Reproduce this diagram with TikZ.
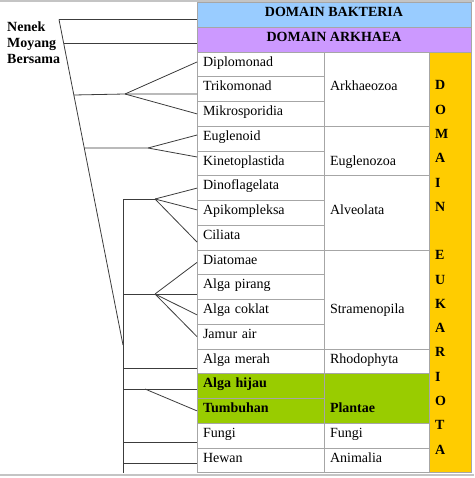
\documentclass[tikz,border=0pt]{standalone}
\usepackage{fontspec}
\setmainfont{Liberation Serif}
\usetikzlibrary{positioning,calc}
\definecolor{bakblue}{HTML}{99CCFF}
\definecolor{arkpurple}{HTML}{CC99FF}
\definecolor{eukgold}{HTML}{FFCC00}
\definecolor{plantgreen}{HTML}{99CC00}
\definecolor{gridgray}{HTML}{A6A6A6}
\definecolor{treeline}{HTML}{3C3C3C}
\definecolor{framegray}{HTML}{C4C4C4}
\tikzset{
  cellbox/.style={rectangle,draw=gridgray,line width=0.8pt,outer sep=0pt,
    minimum height=24.75pt,text width=115pt,inner xsep=6pt,inner ysep=0pt,
    align=left,text height=9.5pt,text depth=6.2pt,font=\fontsize{14}{16}\selectfont},
  plantcell/.style={cellbox,fill=plantgreen,font=\fontsize{14}{16}\selectfont\bfseries},
  grptext/.style={rectangle,outer sep=0pt,minimum height=24.75pt,text width=93pt,
    inner xsep=6pt,inner ysep=0pt,align=left,text height=9.5pt,text depth=6.2pt,
    font=\fontsize{14}{16}\selectfont},
  hdrbox/.style={rectangle,draw=gridgray,line width=0.8pt,outer sep=0pt,
    minimum width=274pt,minimum height=24.75pt,inner sep=0pt,
    text height=9.5pt,text depth=6.2pt,font=\fontsize{14}{16}\selectfont\bfseries},
  eukbox/.style={rectangle,draw=gridgray,line width=0.8pt,fill=eukgold,outer sep=0pt,
    minimum width=42pt,minimum height=420.75pt,inner sep=0pt},
  eukletter/.style={inner sep=0pt,font=\fontsize{14}{16}\selectfont\bfseries},
  rootlabel/.style={inner sep=0pt,align=left,font=\fontsize{14}{16}\selectfont\bfseries},
  gridline/.style={draw=gridgray,line width=0.8pt},
  tree/.style={draw=treeline,line width=0.8pt},
}
\begin{document}
\begin{tikzpicture}[x=1pt,y=-1pt]
  \useasboundingbox (0,0) rectangle (474,478);
  % page rules
  \draw[framegray,line width=1.5pt] (0,1) -- (474,1);
  \draw[framegray,line width=1.5pt] (0,475) -- (474,475);

  % domains
  \node[hdrbox,fill=bakblue,anchor=north west] (bak) at (197,2.5) {DOMAIN BAKTERIA};
  \node[hdrbox,fill=arkpurple,below=0pt of bak] (ark) {DOMAIN ARKHAEA};
  \node[eukbox,anchor=north west] (euk) at (429,52) {};

  % species column
  \node[cellbox,anchor=north west] (dip) at (197,52) {Diplomonad};
  \node[cellbox,below=0pt of dip] (trik) {Trikomonad};
  \node[cellbox,below=0pt of trik] (mik) {Mikrosporidia};
  \node[cellbox,below=0pt of mik] (eug) {Euglenoid};
  \node[cellbox,below=0pt of eug] (kin) {Kinetoplastida};
  \node[cellbox,below=0pt of kin] (dino) {Dinoflagelata};
  \node[cellbox,below=0pt of dino] (api) {Apikompleksa};
  \node[cellbox,below=0pt of api] (cil) {Ciliata};
  \node[cellbox,below=0pt of cil] (dia) {Diatomae};
  \node[cellbox,below=0pt of dia] (pir) {Alga pirang};
  \node[cellbox,below=0pt of pir] (cok) {Alga coklat};
  \node[cellbox,below=0pt of cok] (jam) {Jamur air};
  \node[cellbox,below=0pt of jam] (merah) {Alga merah};
  \node[plantcell,below=0pt of merah] (hijau) {Alga hijau};
  \node[plantcell,below=0pt of hijau] (tumb) {Tumbuhan};
  \node[cellbox,below=0pt of tumb] (fungi) {Fungi};
  \node[cellbox,below=0pt of fungi] (hewan) {Hewan};

  % group column
  \foreach \a/\b in {dip/mik,eug/kin,dino/cil,dia/jam,merah/merah,fungi/fungi,hewan/hewan}
    \draw[gridline] (\a.north east) rectangle (\b.south east -| euk.west);
  \draw[gridline,fill=plantgreen] (hijau.north east) rectangle (tumb.south east -| euk.west);
  \node[grptext,right=0pt of trik] (arkz) {Arkhaeozoa};
  \node[grptext,right=0pt of kin] (euglz) {Euglenozoa};
  \node[grptext,right=0pt of api] (alv) {Alveolata};
  \node[grptext,right=0pt of cok] (stra) {Stramenopila};
  \node[grptext,right=0pt of merah] (rhod) {Rhodophyta};
  \node[grptext,right=0pt of tumb,font=\fontsize{14}{16}\selectfont\bfseries] (plan) {Plantae};
  \node[grptext,right=0pt of fungi] (fung) {Fungi};
  \node[grptext,right=0pt of hewan] (anim) {Animalia};

  % domain eukariota letters
  \foreach \ch/\k in {D/0,O/1,M/2,A/3,I/4,N/5,E/7,U/8,K/9,A/10,R/11,I/12,O/13,T/14,A/15}
    \node[eukletter,anchor=base west] (eu\k) at (435,{90+24.27*\k}) {\ch};

  % tree
  \node[rootlabel,anchor=base west] (nenek) at (7,64) {Nenek\\Moyang\\Bersama};
  \coordinate (root) at (59,19.5);
  \coordinate (slantend) at (123,345);
  \coordinate (j-ark) at (63.7,43);
  \coordinate (j-arkz) at (73.9,95);
  \coordinate (j-eug) at (84.3,148);
  \coordinate (f-arkz) at (125,94);
  \coordinate (f-eug) at (148,148);
  \coordinate (v-top) at (123,199);
  \coordinate (v-bot) at (123,473);
  \coordinate (f-alv) at (155,199);
  \coordinate (j-str) at (123,294);
  \coordinate (f-str) at (155,294);
  \coordinate (j-merah) at (123,368);
  \coordinate (j-hijau) at (123,389);
  \coordinate (f-plant) at (145,389);
  \coordinate (j-fungi) at (123,442);
  \coordinate (j-hewan) at (123,463);

  \draw[tree] (root) -- (slantend);
  \draw[tree] (root) -- (root -| bak.west);
  \draw[tree] (j-ark) -- (j-ark -| ark.west);
  \draw[tree] (j-arkz) -- (f-arkz) -- (f-arkz -| trik.west);
  \draw[tree] (f-arkz) -- ($(dip.west)+(0,-2.4)$);
  \draw[tree] (f-arkz) -- (mik.west);
  \draw[tree] (j-eug) -- (f-eug) -- ($(eug.west)+(0,-3.6)$);
  \draw[tree] (f-eug) -- ($(kin.west)+(0,-6.4)$);
  \draw[tree] (f-alv) -- (v-top) -- (v-bot);
  \draw[tree] (f-alv) -- (dino.west);
  \draw[tree] (f-alv) -- ($(api.west)+(0,-3)$);
  \draw[tree] (f-alv) -- ($(cil.west)+(0,4.4)$);
  \draw[tree] (j-str) -- (j-str -| pir.west);
  \draw[tree] (f-str) -- (dia.west);
  \draw[tree] (f-str) -- ($(cok.west)+(0,3)$);
  \draw[tree] (f-str) -- (jam.west);
  \draw[tree] (j-merah) -- (j-merah -| merah.west);
  \draw[tree] (j-hijau) -- (j-hijau -| hijau.west);
  \draw[tree] (f-plant) -- (tumb.west);
  \draw[tree] (j-fungi) -- (j-fungi -| fungi.west);
  \draw[tree] (j-hewan) -- (j-hewan -| hewan.west);
\end{tikzpicture}
\end{document}
